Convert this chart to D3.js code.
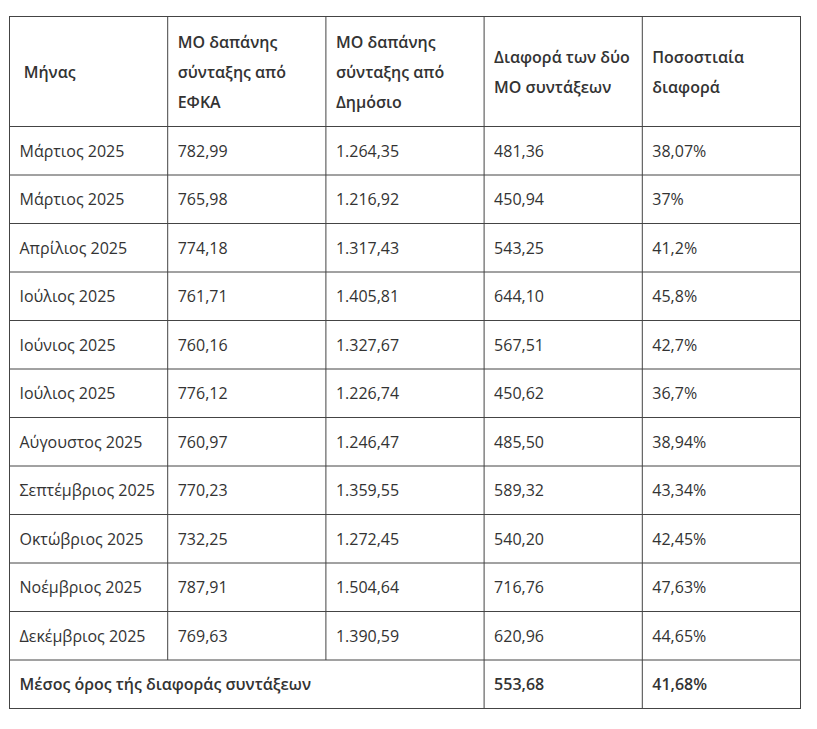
<!DOCTYPE html>
<html>
<head>
<meta charset="utf-8">
<script src="https://cdn.jsdelivr.net/npm/d3@7"></script>
<style>
  body { margin: 0; background: #fff; }
  text { font-family: "Open Sans", sans-serif; font-size: 16px; fill: #333; }
</style>
</head>
<body>
<script>
// table data
var headers = [
  [" Μήνας"],
  ["ΜΟ δαπάνης", "σύνταξης από", "ΕΦΚΑ"],
  ["ΜΟ δαπάνης", "σύνταξης από", "Δημόσιο"],
  ["Διαφορά των δύο", "ΜΟ συντάξεων"],
  ["Ποσοστιαία", "διαφορά"]
];
var months = ["Μάρτιος 2025", "Μάρτιος 2025", "Απρίλιος 2025", "Ιούλιος 2025", "Ιούνιος 2025",
  "Ιούλιος 2025", "Αύγουστος 2025", "Σεπτέμβριος 2025", "Οκτώβριος 2025", "Νοέμβριος 2025", "Δεκέμβριος 2025"];
var efka = ["782,99", "765,98", "774,18", "761,71", "760,16", "776,12", "760,97", "770,23", "732,25", "787,91", "769,63"];
var dimosio = ["1.264,35", "1.216,92", "1.317,43", "1.405,81", "1.327,67", "1.226,74", "1.246,47", "1.359,55", "1.272,45", "1.504,64", "1.390,59"];
var diafora = ["481,36", "450,94", "543,25", "644,10", "567,51", "450,62", "485,50", "589,32", "540,20", "716,76", "620,96"];
var pososto = ["38,07%", "37%", "41,2%", "45,8%", "42,7%", "36,7%", "38,94%", "43,34%", "42,45%", "47,63%", "44,65%"];
var footerLabel = "Μέσος όρος τής διαφοράς συντάξεων";
var footerValues = ["553,68", "41,68%"];

var W = 817, H = 729;
var tLeft = 9.5, tRight = 800.5, tTop = 16.5, headBottom = 126.5, tBottom = 708.5;
var pad = 10, lineH = 30;

var svg = d3.select("body").append("svg")
  .attr("width", W)
  .attr("height", H);

// columns and rows as band scales
var x = d3.scaleBand()
  .domain(d3.range(headers.length))
  .range([tLeft, tRight]);

var rowIds = d3.range(months.length + 1); // body rows + footer
var y = d3.scaleBand()
  .domain(rowIds)
  .range([headBottom, tBottom]);

var rows = months.map(function(m, i) {
  return [m, efka[i], dimosio[i], diafora[i], pososto[i]];
});

var lines = svg.append("g").attr("id", "grid")
  .attr("stroke", "#444")
  .attr("stroke-width", 1)
  .attr("fill", "none");

// outer border
lines.append("rect")
  .attr("x", tLeft).attr("y", tTop)
  .attr("width", tRight - tLeft).attr("height", tBottom - tTop);

// horizontal lines
lines.selectAll("line.h")
  .data(rowIds)
  .enter().append("line")
  .attr("class", "h")
  .attr("x1", tLeft).attr("x2", tRight)
  .attr("y1", function(d) { return y(d); })
  .attr("y2", function(d) { return y(d); });

// vertical lines (footer merges first three columns)
var footerY = y(months.length);
lines.selectAll("line.v")
  .data(d3.range(1, headers.length))
  .enter().append("line")
  .attr("class", "v")
  .attr("x1", function(d) { return x(d); })
  .attr("x2", function(d) { return x(d); })
  .attr("y1", tTop)
  .attr("y2", function(d) { return d < 3 ? footerY : tBottom; });

// header text
var headCenter = (tTop + headBottom) / 2 + 6;
var head = svg.append("g").attr("id", "header");
headers.forEach(function(h, c) {
  h.forEach(function(t, k) {
    head.append("text")
      .attr("x", x(c) + pad)
      .attr("y", headCenter + (k - (h.length - 1) / 2) * lineH)
      .attr("font-weight", 600)
      .style("white-space", "pre")
      .text(t);
  });
});

// body text
var body = svg.append("g").attr("id", "body");
rows.forEach(function(r, i) {
  r.forEach(function(t, c) {
    body.append("text")
      .attr("x", x(c) + pad)
      .attr("y", y(i) + y.bandwidth() / 2 + 6)
      .text(t);
  });
});

// footer text
var foot = svg.append("g").attr("id", "footer");
var fy = footerY + y.bandwidth() / 2 + 6;
foot.append("text")
  .attr("x", x(0) + pad).attr("y", fy)
  .attr("font-weight", 600)
  .text(footerLabel);
footerValues.forEach(function(t, k) {
  foot.append("text")
    .attr("x", x(3 + k) + pad).attr("y", fy)
    .attr("font-weight", 600)
    .text(t);
});
</script>
</body>
</html>
